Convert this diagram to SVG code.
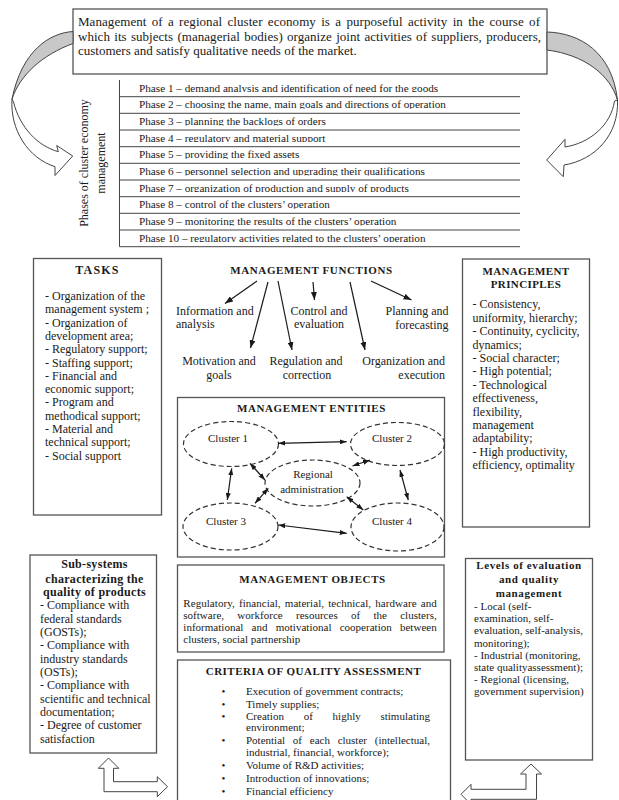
<svg xmlns="http://www.w3.org/2000/svg" width="619" height="800" viewBox="0 0 619 800">
<defs>
<style>
text{font-family:"Liberation Serif","Times New Roman",serif;fill:#1a1a1a}
.box{fill:#fff;stroke:#555;stroke-width:1.3}
.h{font-weight:bold}
.s13{font-size:13px}
.s12{font-size:12px}
.s11{font-size:11px}
.ph{font-size:11.2px}
.m{text-anchor:middle}
.e{text-anchor:end}
.ln{stroke:#1a1a1a;stroke-width:1.2;fill:none}
.ell{fill:none;stroke:#333;stroke-width:1.2;stroke-dasharray:5 3}
.rib{fill:#fff;stroke:#444;stroke-width:1}
.ribg{fill:#c8c8c8;stroke:#444;stroke-width:1}
.sep{stroke:#444;stroke-width:1}
</style>
<marker id="ah" viewBox="0 0 8 6" refX="8" refY="3" markerWidth="8" markerHeight="6" markerUnits="userSpaceOnUse" orient="auto"><path d="M0,0L8,3L0,6z" fill="#1a1a1a"/></marker>
<marker id="dh" viewBox="0 0 7 5" refX="7" refY="2.5" markerWidth="7" markerHeight="5" markerUnits="userSpaceOnUse" orient="auto-start-reverse"><path d="M0,0L7,2.5L0,5z" fill="#1a1a1a"/></marker>
<clipPath id="phclip">
<rect x="119" y="80.5" width="402" height="11.6"/>
<rect x="119" y="97.2" width="402" height="11.6"/>
<rect x="119" y="113.8" width="402" height="11.6"/>
<rect x="119" y="130.5" width="402" height="11.6"/>
<rect x="119" y="147.2" width="402" height="11.6"/>
<rect x="119" y="163.8" width="402" height="11.6"/>
<rect x="119" y="180.5" width="402" height="11.6"/>
<rect x="119" y="197.2" width="402" height="11.6"/>
<rect x="119" y="213.8" width="402" height="11.6"/>
<rect x="119" y="230.5" width="402" height="11.6"/>
</clipPath>
<clipPath id="critclip"><rect x="180" y="660" width="270" height="15.6"/></clipPath>
</defs>

<g id="definition">
<rect class="box" x="73" y="9" width="474" height="65" stroke="#444" stroke-width="1.5"/>
<text class="s13" x="78" y="26" textLength="462" lengthAdjust="spacing" word-spacing="2">Management of a regional cluster economy is a purposeful activity in the course of</text>
<text class="s13" x="78" y="40.5" textLength="463" lengthAdjust="spacing" word-spacing="1">which its subjects (managerial bodies) organize joint activities of suppliers, producers,</text>
<text class="s13" x="78" y="55">customers and satisfy qualitative needs of the market.</text>
</g>

<g id="phases">
<text class="s12" transform="translate(88,163) rotate(-90)" text-anchor="middle" fill="#333">Phases of cluster economy</text>
<text class="s12" transform="translate(105,163) rotate(-90)" text-anchor="middle" fill="#333">management</text>
<line class="sep" x1="119.5" y1="80" x2="119.5" y2="246.7"/>
<g class="sep">
<line x1="119.5" y1="96.7" x2="520" y2="96.7"/>
<line x1="119.5" y1="113.3" x2="520" y2="113.3"/>
<line x1="119.5" y1="130" x2="520" y2="130"/>
<line x1="119.5" y1="146.7" x2="520" y2="146.7"/>
<line x1="119.5" y1="163.3" x2="520" y2="163.3"/>
<line x1="119.5" y1="180" x2="520" y2="180"/>
<line x1="119.5" y1="196.7" x2="520" y2="196.7"/>
<line x1="119.5" y1="213.3" x2="520" y2="213.3"/>
<line x1="119.5" y1="230" x2="520" y2="230"/>
<line x1="119.5" y1="246.7" x2="520" y2="246.7"/>
</g>
<g clip-path="url(#phclip)" class="ph">
<text class="ph" x="139" y="91.5">Phase 1 – demand analysis and identification of need for the goods</text>
<text class="ph" x="139" y="108.2">Phase 2 – choosing the name, main goals and directions of operation</text>
<text class="ph" x="139" y="124.8">Phase 3 – planning the backlogs of orders</text>
<text class="ph" x="139" y="141.5">Phase 4 – regulatory and material support</text>
<text class="ph" x="139" y="158.2">Phase 5 – providing the fixed assets</text>
<text class="ph" x="139" y="174.8">Phase 6 – personnel selection and upgrading their qualifications</text>
<text class="ph" x="139" y="191.5">Phase 7 – organization of production and  supply of products</text>
<text class="ph" x="139" y="208.2">Phase 8 – control of the clusters’ operation</text>
<text class="ph" x="139" y="224.8">Phase 9 – monitoring the results of the clusters’ operation</text>
<text class="ph" x="139" y="241.5">Phase 10 – regulatory activities related to the clusters’ operation</text>
</g>
</g>

<g id="ribbon-left">
<path class="ribg" d="M73,31.5 C50,33 22,50 12,99 C20,75 42,55 73,43.5 Z"/>
<path class="rib" d="M12,99 C10,130 28,158 55,166.7 L55,175.5 L72.7,156 L56.7,145.5 L58.3,151.7 C38,146 20,128 13.5,102 Z"/>
</g>
<g id="ribbon-right">
<path class="ribg" d="M547,32 C580,33 612,52 617.5,100 C610,75 585,55 547,50 Z"/>
<path class="rib" d="M617.5,100 C619,135 595,160 564,165 L563.3,176.7 L546.7,160 L565,139.3 L565,147 C590,143 611,125 614.5,101 Z"/>
</g>

<g id="tasks">
<rect class="box" x="33.5" y="258.5" width="128" height="256.5"/>
<text class="s12 h m" x="97.5" y="274" letter-spacing="1.2">TASKS</text>
<g class="s12">
<text class="s12" x="45" y="300">- Organization of the</text>
<text class="s12" x="45" y="313.3">management system ;</text>
<text class="s12" x="45" y="326.6">- Organization of</text>
<text class="s12" x="45" y="339.9">development area;</text>
<text class="s12" x="45" y="353.2">- Regulatory support;</text>
<text class="s12" x="45" y="366.5">- Staffing support;</text>
<text class="s12" x="45" y="379.8">- Financial and</text>
<text class="s12" x="45" y="393.1">economic support;</text>
<text class="s12" x="45" y="406.4">- Program and</text>
<text class="s12" x="45" y="419.7">methodical support;</text>
<text class="s12" x="45" y="433">- Material and</text>
<text class="s12" x="45" y="446.3">technical support;</text>
<text class="s12" x="45" y="459.6">- Social support</text>
</g>
</g>

<g id="functions">
<text class="s11 h m" x="311.5" y="274" letter-spacing="0.6">MANAGEMENT FUNCTIONS</text>
<text class="s12" x="176" y="315">Information and</text>
<text class="s12" x="176" y="327.5">analysis</text>
<text class="s12 m" x="319" y="315">Control and</text>
<text class="s12 m" x="319" y="328">evaluation</text>
<text class="s12 e" x="448.5" y="315">Planning and</text>
<text class="s12 e" x="448.5" y="328.5">forecasting</text>
<text class="s12 m" x="219" y="365">Motivation and</text>
<text class="s12 m" x="219" y="378.5">goals</text>
<text class="s12 m" x="306" y="365">Regulation and</text>
<text class="s12 m" x="307" y="378.5">correction</text>
<text class="s12 e" x="445" y="365">Organization and</text>
<text class="s12 e" x="445" y="378.5">execution</text>
</g>

<g id="principles">
<rect class="box" x="462.5" y="259" width="127" height="268"/>
<text class="s11 h m" x="526" y="275" letter-spacing="0.4">MANAGEMENT</text>
<text class="s11 h m" x="526" y="288.3" letter-spacing="0.4">PRINCIPLES</text>
<text class="s12" x="472.5" y="308.3">- Consistency,</text>
<text class="s12" x="472.5" y="321.7">uniformity, hierarchy;</text>
<text class="s12" x="472.5" y="335.1">- Continuity, cyclicity,</text>
<text class="s12" x="472.5" y="348.5">dynamics;</text>
<text class="s12" x="472.5" y="361.9">- Social character;</text>
<text class="s12" x="472.5" y="375.3">- High potential;</text>
<text class="s12" x="472.5" y="388.7">- Technological</text>
<text class="s12" x="472.5" y="402.1">effectiveness,</text>
<text class="s12" x="472.5" y="415.5">flexibility,</text>
<text class="s12" x="472.5" y="428.9">management</text>
<text class="s12" x="472.5" y="442.3">adaptability;</text>
<text class="s12" x="472.5" y="455.7">- High productivity,</text>
<text class="s12" x="472.5" y="469.1">efficiency, optimality</text>
</g>

<g id="entities">
<rect class="box" x="177.5" y="397.5" width="267" height="159.5"/>
<text class="s11 h m" x="311.5" y="411.7" letter-spacing="0.6">MANAGEMENT ENTITIES</text>
</g>
<g id="cluster1"><ellipse class="ell" cx="231" cy="444" rx="47.5" ry="22.5"/><text class="s11 m" x="228" y="442">Cluster 1</text></g>
<g id="cluster2"><ellipse class="ell" cx="397.5" cy="444" rx="47" ry="21.5"/><text class="s11 m" x="392" y="442">Cluster 2</text></g>
<g id="regional"><ellipse class="ell" cx="312.5" cy="483" rx="47.5" ry="23"/><text class="s11 m" x="313" y="478">Regional</text><text class="s11 m" x="312" y="493">administration</text></g>
<g id="cluster3"><ellipse class="ell" cx="230.5" cy="526.5" rx="47.5" ry="23.5"/><text class="s11 m" x="226" y="525">Cluster 3</text></g>
<g id="cluster4"><ellipse class="ell" cx="397.5" cy="527" rx="46.5" ry="24"/><text class="s11 m" x="392" y="525">Cluster 4</text></g>

<g id="connectors">
<line class="ln" x1="257" y1="281" x2="225" y2="303.5" marker-end="url(#ah)"/>
<line class="ln" x1="268" y1="282" x2="250.5" y2="348" marker-end="url(#ah)"/>
<line class="ln" x1="278" y1="281" x2="292" y2="350" marker-end="url(#ah)"/>
<line class="ln" x1="313" y1="282" x2="314.5" y2="300" marker-end="url(#ah)"/>
<line class="ln" x1="350" y1="282" x2="365" y2="350" marker-end="url(#ah)"/>
<line class="ln" x1="371" y1="281" x2="411.5" y2="300" marker-end="url(#ah)"/>
<line class="ln" x1="278.3" y1="443.3" x2="346.7" y2="441.7" marker-start="url(#dh)" marker-end="url(#dh)"/>
<line class="ln" x1="352.5" y1="466" x2="370" y2="460" marker-start="url(#dh)" marker-end="url(#dh)"/>
<line class="ln" x1="250" y1="463.3" x2="265" y2="480" marker-start="url(#dh)" marker-end="url(#dh)"/>
<line class="ln" x1="255" y1="503.3" x2="268.3" y2="488.3" marker-start="url(#dh)" marker-end="url(#dh)"/>
<line class="ln" x1="231.7" y1="468.3" x2="227.3" y2="500" marker-start="url(#dh)" marker-end="url(#dh)"/>
<line class="ln" x1="346.7" y1="496.7" x2="363.3" y2="510" marker-start="url(#dh)" marker-end="url(#dh)"/>
<line class="ln" x1="400" y1="470" x2="408.3" y2="500" marker-start="url(#dh)" marker-end="url(#dh)"/>
<line class="ln" x1="278.3" y1="525" x2="346.7" y2="533.3" marker-start="url(#dh)" marker-end="url(#dh)"/>
<polygon class="rib" points="108.5,758 118.8,768.3 113.5,768.3 113.5,781.7 157.3,781.7 157.3,776.7 167.5,786.7 157.3,796.7 157.3,791.7 104,791.7 104,768.3 98.3,768.3"/>
<polygon class="rib" points="531,764 541.5,774 536.5,774 536.5,799.3 471,799.3 471,804.3 461,794.3 471,784.3 471,789.3 526,789.3 526,774 520.5,774"/>
</g>

<g id="subsystems">
<rect class="box" x="30" y="555" width="126.5" height="198"/>
<text class="s12 h m" x="94.5" y="568.3" letter-spacing="0.3">Sub-systems</text>
<text class="s12 h m" x="94.5" y="582.7" letter-spacing="0.3">characterizing the</text>
<text class="s12 h m" x="94.5" y="596" letter-spacing="0.3">quality of products</text>
<text class="s12" x="40" y="609.3">- Compliance with</text>
<text class="s12" x="40" y="622.7">federal standards</text>
<text class="s12" x="40" y="636">(GOSTs);</text>
<text class="s12" x="40" y="649.4">- Compliance with</text>
<text class="s12" x="40" y="662.7">industry standards</text>
<text class="s12" x="40" y="676">(OSTs);</text>
<text class="s12" x="40" y="689.4">- Compliance with</text>
<text class="s12" x="40" y="702.7">scientific and technical</text>
<text class="s12" x="40" y="716">documentation;</text>
<text class="s12" x="40" y="729.4">- Degree of customer</text>
<text class="s12" x="40" y="742.7">satisfaction</text>
</g>

<g id="objects">
<rect class="box" x="177.5" y="565" width="266.5" height="87"/>
<text class="s11 h m" x="312.5" y="583.3" letter-spacing="0.6">MANAGEMENT OBJECTS</text>
<text class="s11" x="183.3" y="606.5" textLength="253.4" lengthAdjust="spacing" word-spacing="1.3">Regulatory, financial, material, technical, hardware and</text>
<text class="s11" x="183.3" y="618.5" textLength="253.4" lengthAdjust="spacing" word-spacing="10.5">software, workforce resources of the clusters,</text>
<text class="s11" x="183.3" y="630.5" textLength="253.4" lengthAdjust="spacing" word-spacing="5.4">informational and motivational cooperation between</text>
<text class="s11" x="183.3" y="642.5">clusters, social partnership</text>
</g>

<g id="criteria">
<rect class="box" x="177.5" y="660" width="273" height="160"/>
<text class="s11 h m" x="313.5" y="675" letter-spacing="0.5" clip-path="url(#critclip)">CRITERIA OF QUALITY ASSESSMENT</text>
<g class="s11">
<text class="s11" x="221.5" y="695">•</text>
<text class="s11" x="246" y="695">Execution of government contracts;</text>
<text class="s11" x="221.5" y="707.5">•</text>
<text class="s11" x="246" y="707.5">Timely supplies;</text>
<text class="s11" x="221.5" y="720">•</text>
<text class="s11" x="246" y="720" textLength="184" lengthAdjust="spacing" word-spacing="17">Creation of highly stimulating</text>
<text class="s11" x="246" y="731">environment;</text>
<text class="s11" x="221.5" y="744">•</text>
<text class="s11" x="246" y="744" textLength="184" lengthAdjust="spacing" word-spacing="5">Potential of each cluster (intellectual,</text>
<text class="s11" x="246" y="755.5">industrial, financial, workforce);</text>
<text class="s11" x="221.5" y="768.5">•</text>
<text class="s11" x="246" y="768.5">Volume of R&amp;D activities;</text>
<text class="s11" x="221.5" y="781.5">•</text>
<text class="s11" x="246" y="781.5">Introduction of innovations;</text>
<text class="s11" x="221.5" y="795">•</text>
<text class="s11" x="246" y="795">Financial efficiency</text>
</g>
</g>

<g id="levels">
<rect class="box" x="465.5" y="558.5" width="127" height="201.5"/>
<text class="s11 h m" x="529" y="569.3" letter-spacing="0.6">Levels of evaluation</text>
<text class="s11 h m" x="529" y="583.3" letter-spacing="0.6">and quality</text>
<text class="s11 h m" x="529" y="596.7" letter-spacing="0.6">management</text>
<text class="s11" x="474" y="610">- Local (self-</text>
<text class="s11" x="474" y="622.2">examination, self-</text>
<text class="s11" x="474" y="634.3">evaluation, self-analysis,</text>
<text class="s11" x="474" y="646.5">monitoring);</text>
<text class="s11" x="474" y="658.6">- Industrial (monitoring,</text>
<text class="s11" x="474" y="670.8">state qualityassessment);</text>
<text class="s11" x="474" y="682.9">- Regional (licensing,</text>
<text class="s11" x="474" y="695">government supervision)</text>
</g>
</svg>
